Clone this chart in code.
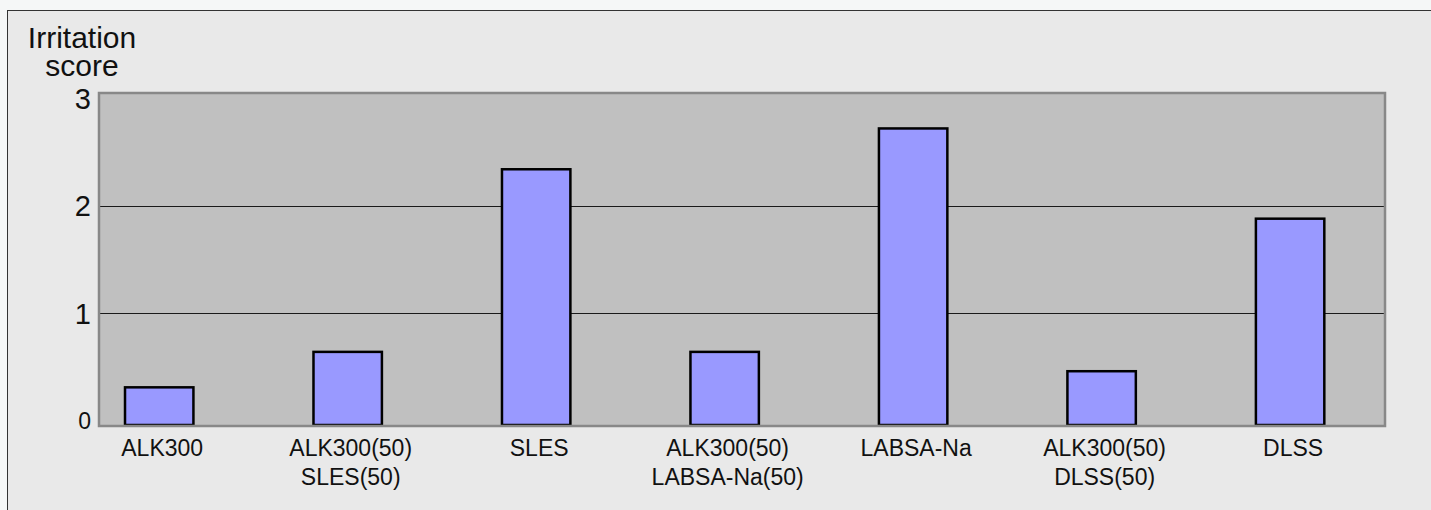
<!DOCTYPE html>
<html>
<head>
<meta charset="utf-8">
<script src="https://cdn.jsdelivr.net/npm/d3@7"></script>
<style>
  body { margin: 0; background: #f5f7f7; }
  text { font-family: "Liberation Sans", Arial, sans-serif; fill: #111; }
</style>
</head>
<body>
<div class="draw-barchart"></div>
<script>
const categories = [
  ["ALK300"],
  ["ALK300(50)", "SLES(50)"],
  ["SLES"],
  ["ALK300(50)", "LABSA-Na(50)"],
  ["LABSA-Na"],
  ["ALK300(50)", "DLSS(50)"],
  ["DLSS"],
];
const scores = [0.31, 0.64, 2.34, 0.64, 2.72, 0.46, 1.88];
const yTicks = [0, 1, 2, 3];
const yTitle = ["Irritation", "score"];

const draw = () => {
  const width = 1431;
  const height = 510;
  const plot = { left: 99, top: 93, right: 1385, bottom: 426 };

  const svg = d3
    .select(".draw-barchart")
    .append("svg")
    .attr("width", width)
    .attr("height", height);

  // outer frame (runs off the right and bottom edges)
  svg
    .append("rect")
    .attr("x", 7.5)
    .attr("y", 10.5)
    .attr("width", width + 20)
    .attr("height", height + 20)
    .attr("fill", "#e9e9e9")
    .attr("stroke", "#333")
    .attr("stroke-width", 1);

  const keys = categories.map((d) => d.join(" "));

  const x = d3
    .scaleBand()
    .domain(keys)
    .range([plot.left, plot.right])
    .paddingInner(0.637)
    .paddingOuter(0.23)
    .align(0.3);

  const y = d3
    .scaleLinear()
    .domain([-0.05, 3.05])
    .range([plot.bottom, plot.top]);

  // plot background
  svg
    .append("rect")
    .attr("x", plot.left)
    .attr("y", plot.top)
    .attr("width", plot.right - plot.left)
    .attr("height", plot.bottom - plot.top)
    .attr("fill", "#c0c0c0");

  // grid lines
  svg
    .selectAll(".grid")
    .data(yTicks.filter((t) => t > 0 && t < 3))
    .enter()
    .append("line")
    .attr("class", "grid")
    .attr("x1", plot.left)
    .attr("x2", plot.right)
    .attr("y1", (d) => Math.round(y(d)) + 0.5)
    .attr("y2", (d) => Math.round(y(d)) + 0.5)
    .attr("stroke", "#1a1a1a")
    .attr("stroke-width", 1);

  // bars
  svg
    .selectAll(".bar")
    .data(scores)
    .enter()
    .append("rect")
    .attr("class", "bar")
    .attr("x", (d, i) => x(keys[i]))
    .attr("y", (d) => y(d))
    .attr("width", x.bandwidth())
    .attr("height", (d) => y(-0.05) - y(d) - 1)
    .attr("fill", "#9999ff")
    .attr("stroke", "#000")
    .attr("stroke-width", 2.5);

  // plot border
  svg
    .append("rect")
    .attr("x", plot.left)
    .attr("y", plot.top)
    .attr("width", plot.right - plot.left)
    .attr("height", plot.bottom - plot.top)
    .attr("fill", "none")
    .attr("stroke", "#888")
    .attr("stroke-width", 2.5);

  // y axis labels
  const yAxis = svg
    .append("g")
    .attr("transform", "translate(" + (plot.left - 8) + ",0)")
    .call(
      d3
        .axisLeft(y)
        .tickValues(yTicks)
        .tickFormat(d3.format("d"))
        .tickSize(0)
        .tickPadding(0)
    );
  yAxis.select(".domain").remove();
  yAxis
    .selectAll("text")
    .style("font-family", '"Liberation Sans", Arial, sans-serif')
    .style("font-size", (d) => (d === 0 ? "23px" : "29px"))
    .attr("fill", "#111")
    .attr("dy", "0.34em");

  // y title
  svg
    .append("text")
    .attr("text-anchor", "middle")
    .style("font-size", "30px")
    .selectAll("tspan")
    .data(yTitle)
    .enter()
    .append("tspan")
    .attr("x", 82)
    .attr("y", (d, i) => 48 + i * 28)
    .text((d) => d);

  // x labels
  const xLabels = svg
    .selectAll(".xlabel")
    .data(categories)
    .enter()
    .append("text")
    .attr("class", "xlabel")
    .attr("text-anchor", "middle")
    .style("font-size", "23px");

  xLabels
    .selectAll("tspan")
    .data((d, i) => d.map((t) => ({ t, i })))
    .enter()
    .append("tspan")
    .attr("x", (d) => x(keys[d.i]) + x.bandwidth() / 2 + 3)
    .attr("y", (d, j) => 456 + j * 29)
    .text((d) => d.t);
};

draw();
</script>
</body>
</html>
